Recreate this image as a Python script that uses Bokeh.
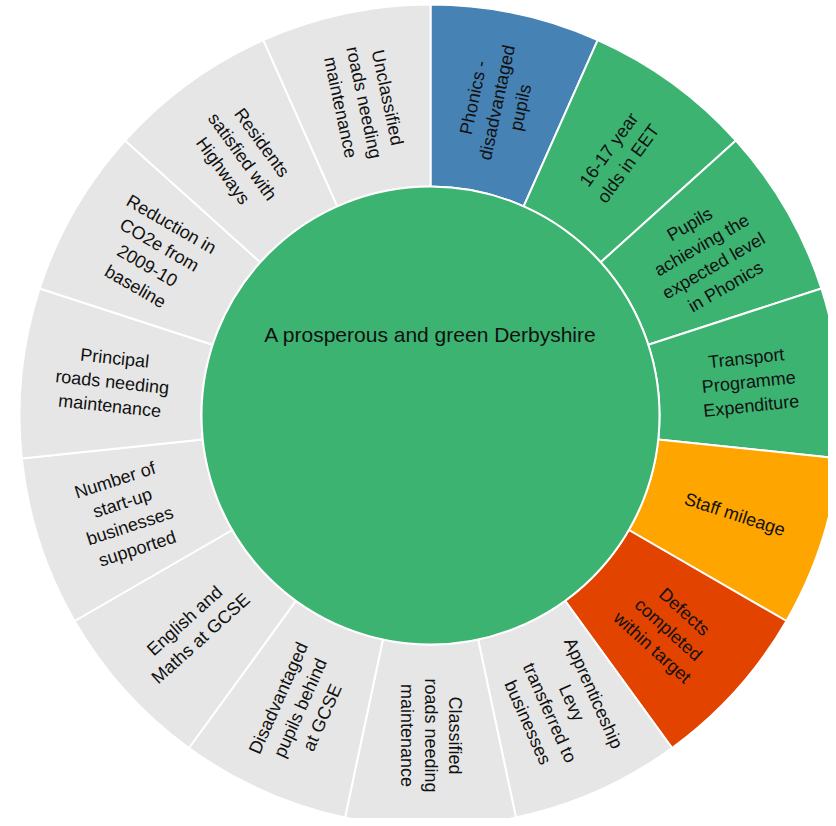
import math
from bokeh.plotting import figure
from bokeh.models import Range1d, ColumnDataSource
from bokeh.core.properties import value
from bokeh.embed import file_html
from bokeh.resources import INLINE

# ---- data ----
centre_label = "A prosperous and green Derbyshire"
measures = [
    "Phonics -\ndisadvantaged\npupils",
    "16-17 year\nolds in EET",
    "Pupils\nachieving the\nexpected level\nin Phonics",
    "Transport\nProgramme\nExpenditure",
    "Staff mileage",
    "Defects\ncompleted\nwithin target",
    "Apprenticeship\nLevy\ntransferred to\nbusinesses",
    "Classified\nroads needing\nmaintenance",
    "Disadvantaged\npupils behind\nat GCSE",
    "English and\nMaths at GCSE",
    "Number of\nstart-up\nbusinesses\nsupported",
    "Principal\nroads needing\nmaintenance",
    "Reduction in\nCO2e from\n2009-10\nbaseline",
    "Residents\nsatisfied with\nHighways",
    "Unclassified\nroads needing\nmaintenance",
]
weights = [1, 1, 1, 1, 1, 1, 1, 1, 1, 1, 1, 1, 1, 1, 1]
status = ["blue", "green", "green", "green", "amber", "red",
          "none", "none", "none", "none", "none", "none", "none", "none", "none"]

status_colors = {
    "blue": "#4682B4",
    "green": "#3CB371",
    "amber": "#FFA500",
    "red": "#E24400",
    "none": "#E6E6E6",
}

# ---- geometry (data units == screen pixels) ----
W, H = 828, 818
cx, cy = 430, 415          # centre position within the figure
inner_r, outer_r = 229, 411

total = sum(weights)
starts, ends, tx, ty, tang, cols = [], [], [], [], [], []
acc = 0.0
for w, s in zip(weights, status):
    a0 = 90.0 - (acc + w) / total * 360.0
    a1 = 90.0 - acc / total * 360.0
    acc += w
    starts.append(math.radians(a0))
    ends.append(math.radians(a1))
    mid = (a0 + a1) / 2.0
    rm = (inner_r + outer_r) / 2.0
    tx.append(rm * math.cos(math.radians(mid)))
    ty.append(rm * math.sin(math.radians(mid)))
    rot = mid if math.cos(math.radians(mid)) >= -1e-9 else mid + 180.0
    tang.append(math.radians(rot))
    cols.append(status_colors[s])

src = ColumnDataSource(dict(start=starts, end=ends, x=tx, y=ty, angle=tang,
                            text=measures, color=cols))

p = figure(width=W, height=H, output_backend="svg", toolbar_location=None,
           x_range=Range1d(-cx, W - cx),
           y_range=Range1d(cy - H, cy),
           min_border=0)
p.axis.visible = False
p.grid.visible = False
p.outline_line_color = None
p.background_fill_color = "white"

p.annular_wedge(x=0, y=0, inner_radius=inner_r, outer_radius=outer_r,
                start_angle="start", end_angle="end", source=src,
                fill_color="color", line_color="white", line_width=2)
p.circle(x=[0], y=[0], radius=inner_r, fill_color=status_colors["green"],
         line_color="white", line_width=2)

p.text(x="x", y="y", text="text", angle="angle", source=src,
       text_align="center", text_baseline="middle",
       text_font=value("Liberation Sans"), text_font_size="18px",
       text_color="#111111", text_line_height=1.2)

p.text(x=[0], y=[cy - 334], text=[centre_label],
       text_align="center", text_baseline="middle",
       text_font=value("Liberation Sans"), text_font_size="21px",
       text_color="#111111")

open("out.html", "w").write(file_html(p, INLINE))
